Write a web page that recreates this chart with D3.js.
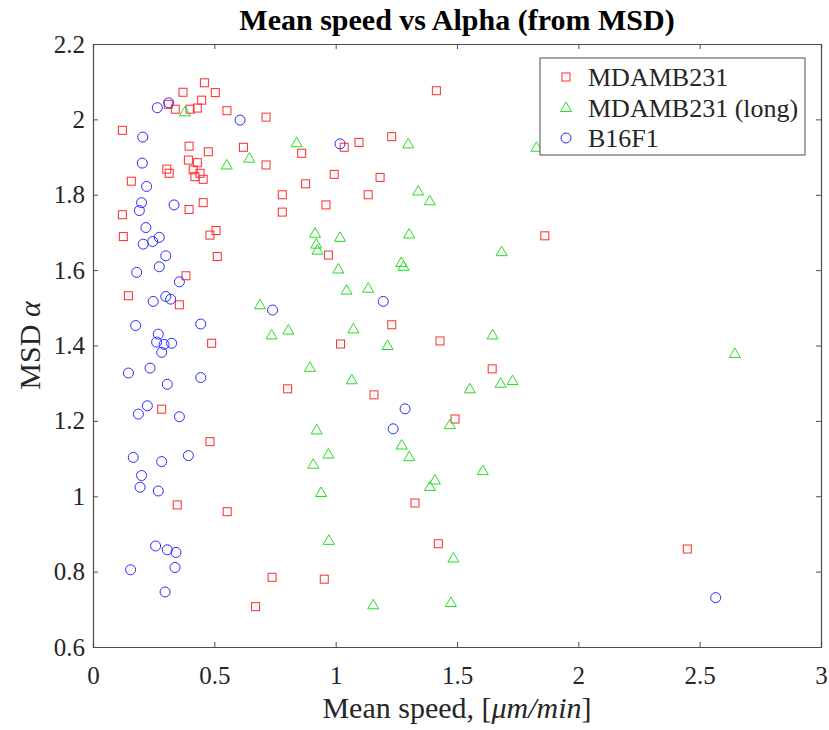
<!DOCTYPE html>
<html lang="en">
<head>
<meta charset="UTF-8">
<title>Mean speed vs Alpha</title>
<style>
  body { margin: 0; background: #fff; }
</style>
</head>
<body>
<script src="https://d3js.org/d3.v7.min.js"></script>
<script>
// MDAMB231 (red squares): [speed, alpha]
var mda = [
  [0.459, 2.097], [0.504, 2.071], [0.371, 2.072], [0.448, 2.051], [0.339, 2.027],
  [0.40, 2.027], [0.43, 2.03], [0.552, 2.023], [0.713, 2.006], [0.121, 1.971],
  [0.396, 1.929], [0.475, 1.914], [0.62, 1.926], [0.713, 1.879], [0.393, 1.892],
  [0.43, 1.885], [0.413, 1.866], [0.441, 1.857], [0.454, 1.841], [0.42, 1.848],
  [0.304, 1.868], [0.314, 1.857], [0.158, 1.836], [0.396, 1.761], [0.454, 1.779],
  [0.121, 1.747], [0.125, 1.689], [0.482, 1.693], [0.507, 1.705], [0.512, 1.636],
  [0.78, 1.80], [0.78, 1.754], [1.415, 2.076], [0.86, 1.91], [1.035, 1.926],
  [1.096, 1.939], [1.231, 1.954], [0.994, 1.854], [0.876, 1.829], [1.183, 1.846],
  [1.134, 1.80], [0.96, 1.773], [0.97, 1.64], [1.862, 1.691], [0.383, 1.585],
  [0.146, 1.532], [0.356, 1.508], [0.489, 1.406], [0.283, 1.231], [0.482, 1.145],
  [0.347, 0.977], [0.553, 0.959], [0.738, 0.785], [0.67, 0.707], [1.231, 1.455],
  [1.02, 1.404], [1.43, 1.412], [0.802, 1.285], [1.158, 1.269], [1.492, 1.205],
  [1.645, 1.338], [1.327, 0.982], [1.423, 0.874], [0.953, 0.78], [2.449, 0.86],
  [0.31, 2.04]
];
// MDAMB231 (long) (green triangles)
var mdaLong = [
  [0.379, 2.02], [0.551, 1.879], [0.644, 1.897], [0.839, 1.938], [1.299, 1.935],
  [1.828, 1.926], [1.34, 1.81], [1.388, 1.784], [0.915, 1.698], [0.92, 1.669],
  [0.925, 1.653], [1.018, 1.687], [1.303, 1.696], [1.684, 1.649], [1.27, 1.62],
  [1.28, 1.61], [1.011, 1.603], [1.045, 1.547], [1.134, 1.552], [0.688, 1.508],
  [0.736, 1.428], [0.805, 1.441], [1.073, 1.444], [1.214, 1.40], [1.647, 1.428],
  [0.894, 1.342], [1.066, 1.309], [1.553, 1.285], [1.68, 1.30], [1.729, 1.307],
  [2.645, 1.379], [1.471, 1.19], [0.922, 1.176], [1.272, 1.136], [1.303, 1.105],
  [0.97, 1.112], [0.908, 1.085], [1.606, 1.068], [0.94, 1.01], [1.409, 1.043],
  [1.389, 1.026], [0.972, 0.883], [1.485, 0.836], [1.155, 0.712], [1.475, 0.718]
];
// B16F1 (blue circles)
var b16 = [
  [0.265, 2.031], [0.312, 2.044], [0.606, 1.998], [0.205, 1.953], [0.203, 1.884],
  [0.221, 1.822], [0.20, 1.779], [0.191, 1.758], [0.334, 1.773], [0.218, 1.713],
  [0.207, 1.669], [0.246, 1.676], [0.273, 1.687], [0.30, 1.638], [0.18, 1.594],
  [0.273, 1.609], [0.356, 1.569], [0.248, 1.517], [0.30, 1.53], [0.32, 1.523],
  [0.74, 1.494], [0.176, 1.453], [0.444, 1.457], [0.269, 1.43], [0.262, 1.409],
  [0.293, 1.403], [0.324, 1.406], [0.283, 1.382], [0.146, 1.327], [0.235, 1.34],
  [0.444, 1.315], [0.306, 1.297], [0.224, 1.24], [0.187, 1.218], [0.356, 1.211],
  [0.166, 1.103], [0.283, 1.092], [0.393, 1.108], [0.20, 1.055], [0.194, 1.024],
  [0.269, 1.014], [0.258, 0.868], [0.306, 0.858], [0.342, 0.851], [0.155, 0.805],
  [0.338, 0.811], [0.297, 0.746], [1.018, 1.935], [1.196, 1.517], [1.286, 1.232],
  [1.237, 1.179], [2.566, 0.731]
];

var seriesNames = ["MDAMB231", "MDAMB231 (long)", "B16F1"];
var xTicks = [0, 0.5, 1, 1.5, 2, 2.5, 3];
var yTicks = [0.6, 0.8, 1, 1.2, 1.4, 1.6, 1.8, 2, 2.2];

var serif = "'Liberation Serif', 'Times New Roman', serif";
var W = 829, H = 730;
var m = { left: 93, top: 44, right: 8, bottom: 83 };
var pw = W - m.left - m.right, ph = H - m.top - m.bottom;

var svg = d3.select("body").append("svg").attr("width", W).attr("height", H);
var g = svg.append("g").attr("transform", "translate(" + m.left + "," + m.top + ")");

var x = d3.scaleLinear().domain([0, 3]).range([0, pw]);
var y = d3.scaleLinear().domain([0.6, 2.2]).range([ph, 0]);

var fmt = function (d) { return d3.format("~g")(d); };
var axCol = "#4d4d4d";

// axes, ticks inside on all four sides
var xb = g.append("g").attr("transform", "translate(0," + ph + ")")
  .call(d3.axisBottom(x).tickValues(xTicks).tickSize(-5).tickPadding(19).tickFormat(fmt));
var xt = g.append("g").call(d3.axisTop(x).tickValues(xTicks).tickSize(-5).tickFormat(""));
var yl = g.append("g")
  .call(d3.axisLeft(y).tickValues(yTicks).tickSize(-5).tickPadding(8).tickFormat(fmt));
var yr = g.append("g").attr("transform", "translate(" + pw + ",0)")
  .call(d3.axisRight(y).tickValues(yTicks).tickSize(-5).tickFormat(""));
[xb, xt, yl, yr].forEach(function (a) {
  a.attr("font-family", null).attr("font-size", null);
  a.select(".domain").attr("stroke", axCol).attr("stroke-width", 1.2);
  a.selectAll(".tick line").attr("stroke", axCol);
  a.selectAll("text").style("font-size", "25px").style("fill", "#262626")
    .style("font-family", serif);
});
// no tick marks at the box corners
[xb, xt].forEach(function (a) {
  a.selectAll(".tick").filter(function (d) { return d === 0 || d === 3; }).select("line").remove();
});
[yl, yr].forEach(function (a) {
  a.selectAll(".tick").filter(function (d) { return d === 0.6 || d === 2.2; }).select("line").remove();
});

var red = "#ff2a2a", green = "#22dd22", blue = "#2a2aff";

function drawMarker(sel, kind, col) {
  if (kind === "square") {
    sel.append("rect").attr("x", -4).attr("y", -4).attr("width", 8).attr("height", 8)
      .attr("fill", "none").attr("stroke", col).attr("stroke-width", 1);
  } else if (kind === "tri") {
    sel.append("path").attr("d", "M0,-5.5L5.5,4L-5.5,4Z")
      .attr("fill", "none").attr("stroke", col).attr("stroke-width", 1);
  } else {
    sel.append("circle").attr("r", 5)
      .attr("fill", "none").attr("stroke", col).attr("stroke-width", 1);
  }
}

var series = [
  { data: mda, kind: "square", col: red },
  { data: mdaLong, kind: "tri", col: green },
  { data: b16, kind: "circle", col: blue }
];

series.forEach(function (s) {
  g.append("g").selectAll("g").data(s.data).enter().append("g")
    .attr("transform", function (d) { return "translate(" + x(d[0]) + "," + y(d[1]) + ")"; })
    .each(function () { drawMarker(d3.select(this), s.kind, s.col); });
});

// title
svg.append("text").attr("x", m.left + pw / 2).attr("y", 30)
  .attr("text-anchor", "middle").style("font-family", serif).style("font-size", "30px")
  .style("font-weight", "bold").style("fill", "#000").text("Mean speed vs Alpha (from MSD)");

// x label
var xl = svg.append("text").attr("x", m.left + pw / 2).attr("y", 718)
  .attr("text-anchor", "middle").style("font-family", serif).style("font-size", "30px")
  .style("fill", "#262626");
xl.append("tspan").text("Mean speed, [");
xl.append("tspan").style("font-style", "italic").text("μm/min");
xl.append("tspan").text("]");

// y label
var ylab = svg.append("text")
  .attr("transform", "translate(40," + (m.top + ph / 2) + ") rotate(-90)")
  .attr("text-anchor", "middle").style("font-family", serif).style("font-size", "30px")
  .style("fill", "#262626");
ylab.append("tspan").text("MSD ");
ylab.append("tspan").style("font-style", "italic").text("α");

// legend
var lg = svg.append("g").attr("transform", "translate(540,58)");
lg.append("rect").attr("width", 265).attr("height", 97)
  .attr("fill", "#fff").attr("stroke", axCol).attr("stroke-width", 1);
series.forEach(function (s, i) {
  var row = lg.append("g").attr("transform", "translate(26," + (19 + i * 30.5) + ")");
  drawMarker(row, s.kind, s.col);
  row.append("text").attr("x", 22).attr("y", 9)
    .style("font-family", serif).style("font-size", "26px").style("fill", "#262626")
    .text(seriesNames[i]);
});
</script>
</body>
</html>
